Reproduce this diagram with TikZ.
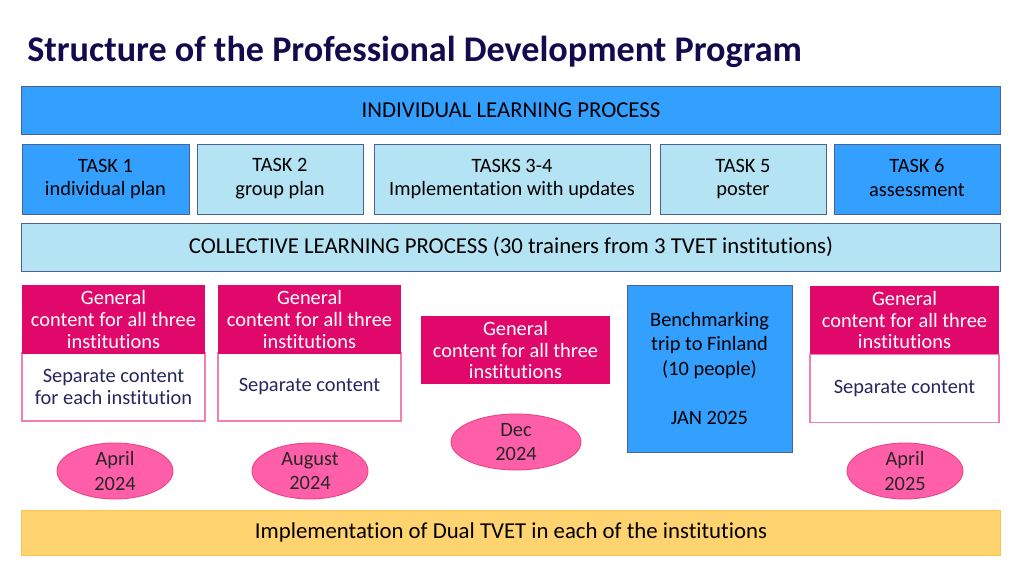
\documentclass[tikz,border=0pt]{standalone}
\usepackage{fontspec}
\setmainfont[Ligatures=NoCommon]{Carlito}
\usepackage{tikz}
\usetikzlibrary{shapes.geometric}

\definecolor{titlenavy}{HTML}{120C4F}
\definecolor{bluebox}{HTML}{33A0FF}
\definecolor{lightbox}{HTML}{B4E4F4}
\definecolor{boxedge}{HTML}{4F6190}
\definecolor{magentabox}{HTML}{E0086B}
\definecolor{pinkedge}{HTML}{F27FB2}
\definecolor{datefill}{HTML}{FF5FA8}
\definecolor{dateedge}{HTML}{E84282}
\definecolor{sepnavy}{HTML}{262660}
\definecolor{dualfill}{HTML}{FFD470}
\definecolor{dualedge}{HTML}{FFC44D}

\begin{document}
\begin{tikzpicture}[
          x=0.025cm, y=-0.025cm,
          every node/.style={inner sep=0pt, align=center, font=\fontsize{14.5}{17}\selectfont},
          wide/.style={draw=boxedge, line width=0.6pt, minimum width=24.45cm, minimum height=1.2cm, font=\fontsize{16.2}{19}\selectfont},
          taskdark/.style={draw=boxedge, line width=0.6pt, fill=bluebox, minimum height=1.75cm},
          tasklight/.style={draw=boxedge, line width=0.6pt, fill=lightbox, minimum height=1.75cm},
          general/.style={fill=magentabox, text=white, minimum height=1.7cm, font=\fontsize{14.5}{15.3}\selectfont},
          separate/.style={draw=pinkedge, line width=0.8pt, fill=white, text=sepnavy, minimum height=1.7cm, font=\fontsize{14.5}{15}\selectfont},
          datemark/.style={ellipse, draw=dateedge, line width=0.6pt, fill=datefill, text=black!85, minimum width=2.9cm, minimum height=1.4cm, font=\fontsize{14.5}{17.5}\selectfont}
        ]
          \useasboundingbox (0,0) rectangle (1024,576);

          % title
          \node[anchor=west, text=titlenavy, font=\fontsize{25.7}{30}\selectfont\bfseries] (title) at (27,52)
            {Structure of the Professional Development Program};

          % individual process and tasks
          \node[wide, fill=bluebox] (indiv) at (511,110) {INDIVIDUAL LEARNING PROCESS};
          \node[taskdark, minimum width=4.175cm] (task1) at (105.5,179) {TASK 1\\individual plan};
          \node[tasklight, minimum width=4.15cm] (task2) at (280,179) {TASK 2\\group plan};
          \node[tasklight, minimum width=6.9cm] (task34) at (512,179) {TASKS 3-4\\Implementation with updates};
          \node[tasklight, minimum width=4.15cm] (task5) at (743,179) {TASK 5\\poster};
          \node[taskdark, minimum width=4.15cm] (task6) at (917,179) {TASK 6\\assessment\vphantom{p}};
          \node[wide, fill=lightbox] (coll) at (511,247)
            {COLLECTIVE LEARNING PROCESS (30 trainers from 3 TVET institutions)};

          % training periods
          \node[separate, minimum width=4.575cm] (sep1) at (113.5,387) {Separate content\\for each institution};
          \node[general, minimum width=4.575cm] (gen1) at (113.5,319.5) {General\\content for all three\\institutions};
          \node[separate, minimum width=4.575cm] (sep2) at (309.5,387) {Separate content};
          \node[general, minimum width=4.575cm] (gen2) at (309.5,319.5) {General\\content for all three\\institutions};
          \node[general, minimum width=4.725cm] (gen3) at (515.5,350) {General\\content for all three\\institutions};
          \node[taskdark, minimum width=4.125cm, minimum height=4.175cm, font=\fontsize{14.5}{17.5}\selectfont] (bench) at (709.5,368.5)
            {Benchmarking\\trip to Finland\\(10 people)\\[17.5pt]JAN 2025};
          \node[separate, minimum width=4.725cm] (sep5) at (904.5,388.5) {Separate content};
          \node[general, minimum width=4.725cm] (gen5) at (904.5,320) {General\\content for all three\\institutions};

          % dates
          \node[datemark] (apr24) at (115,471) {April\\2024};
          \node[datemark] (aug24) at (310,471) {August\\2024};
          \node[datemark, minimum width=3.25cm] (dec24) at (516,442) {Dec\\2024};
          \node[datemark] (apr25) at (905,471) {April\\2025};

          % implementation bar
          \node[draw=dualedge, line width=0.6pt, fill=dualfill, minimum width=24.45cm, minimum height=1.125cm, font=\fontsize{16.2}{19}\selectfont] (dual) at (511,532.5)
            {Implementation of Dual TVET in each of the institutions};
        \end{tikzpicture}
\end{document}
